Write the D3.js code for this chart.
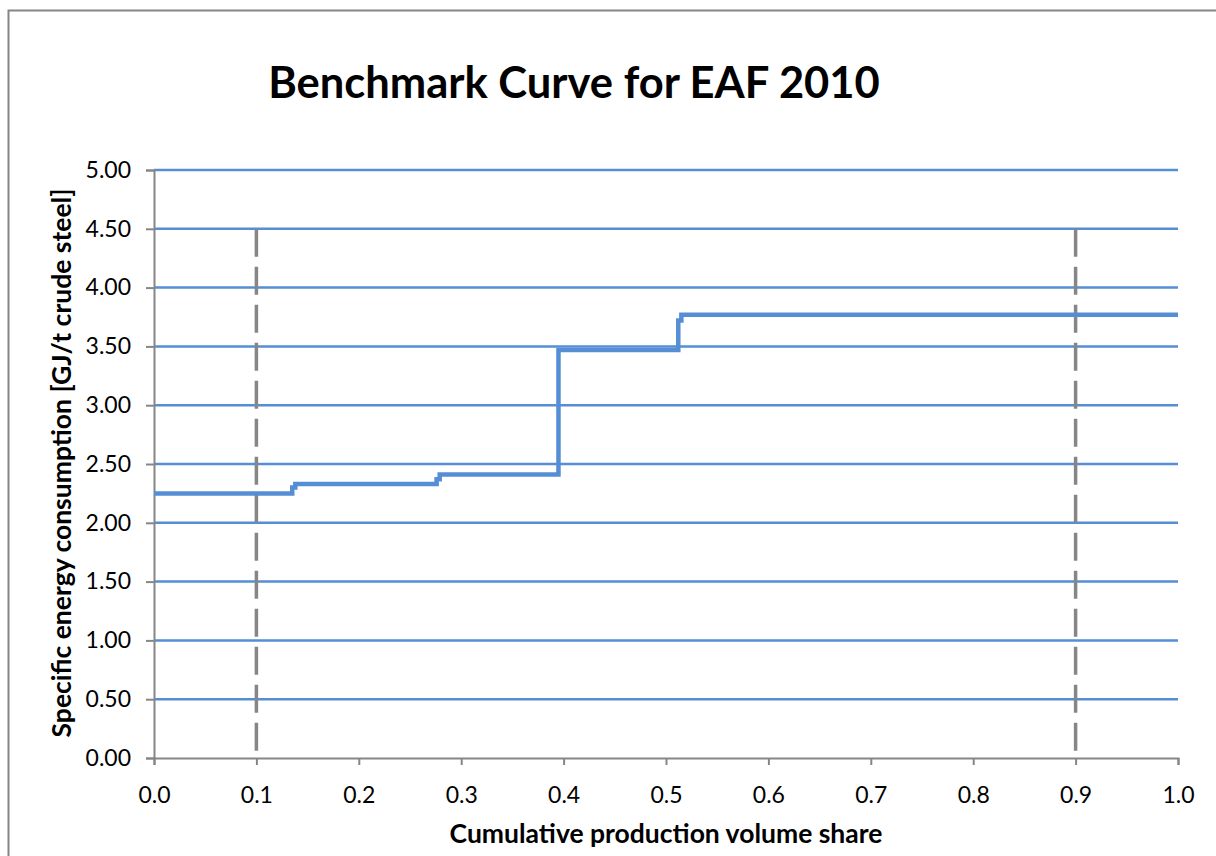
<!DOCTYPE html>
<html><head><meta charset="utf-8">
<script src="https://cdn.jsdelivr.net/npm/d3@7/dist/d3.min.js"></script>
<style>body{margin:0;background:#fff;} text{font-family:Lato,"Open Sans",sans-serif;}</style>
</head><body>
<svg id="c" width="1216" height="856"></svg>
<script>
const title = "Benchmark Curve for EAF 2010";
const xLabel = "Cumulative production volume share";
const yLabel = "Specific energy consumption [GJ/t crude steel]";
const xTicks = [0,0.1,0.2,0.3,0.4,0.5,0.6,0.7,0.8,0.9,1.0];
const yTicks = [0,0.5,1,1.5,2,2.5,3,3.5,4,4.5,5];
// step curve: cumulative share (x) and specific energy (y)
const stepX = [0, 0.135, 0.138, 0.276, 0.279, 0.395, 0.512, 0.515, 1.0];
const stepY = [2.25, 2.30, 2.33, 2.37, 2.41, 3.47, 3.72, 3.77, 3.77];
const benchmarkX = [0.1, 0.9];

const svg = d3.select("#c");
const m = {l:154, r:1178, t:170, b:758};
const x = d3.scaleLinear().domain([0,1]).range([m.l, m.r]);
const y = d3.scaleLinear().domain([0,5]).range([m.b, m.t]);
const blue = "#558ED5", grey = "#868686";

svg.append("rect").attr("x",8.5).attr("y",10.5).attr("width",1230).attr("height",870)
  .attr("fill","none").attr("stroke",grey).attr("stroke-width",2);

// gridlines
svg.append("g").selectAll("line").data(yTicks.filter(d=>d>0)).join("line")
  .attr("x1",m.l).attr("x2",m.r).attr("y1",d=>y(d)).attr("y2",d=>y(d))
  .attr("stroke",blue).attr("stroke-width",2.5);

// y axis
const ya = svg.append("g").attr("transform",`translate(${m.l},0)`)
  .call(d3.axisLeft(y).tickValues(yTicks).tickFormat(d3.format(".2f")).tickSize(8).tickPadding(15));
ya.select(".domain").attr("stroke",grey).attr("stroke-width",2);
ya.selectAll(".tick line").attr("stroke",grey).attr("stroke-width",2);
ya.selectAll("text").attr("font-size",23).attr("fill","#000").style("font-family","Lato,sans-serif");

// x axis
const xa = svg.append("g").attr("transform",`translate(0,${m.b})`)
  .call(d3.axisBottom(x).tickValues(xTicks).tickFormat(d3.format(".1f")).tickSize(7).tickPadding(22));
xa.select(".domain").attr("stroke",grey).attr("stroke-width",2);
xa.selectAll(".tick line").attr("stroke",grey).attr("stroke-width",2);
xa.selectAll("text").attr("font-size",23).attr("fill","#000").style("font-family","Lato,sans-serif");

// benchmark dashed lines
svg.append("g").selectAll("line").data(benchmarkX).join("line")
  .attr("x1",d=>x(d)).attr("x2",d=>x(d)).attr("y1",y(4.5)).attr("y2",y(0))
  .attr("stroke",grey).attr("stroke-width",3.5).attr("stroke-dasharray","28,10");

// step curve
const pts = stepX.map((v,i)=>[v,stepY[i]]);
svg.append("path").datum(pts)
  .attr("d", d3.line().x(d=>x(d[0])).y(d=>y(d[1])).curve(d3.curveStepAfter))
  .attr("fill","none").attr("stroke",blue).attr("stroke-width",4.5);

svg.append("text").attr("x",574).attr("y",98).attr("text-anchor","middle")
  .attr("font-size",43.5).attr("font-weight","bold").text(title);
svg.append("text").attr("x",666).attr("y",843).attr("text-anchor","middle")
  .attr("font-size",26.5).attr("font-weight","bold").text(xLabel);
svg.append("text").attr("transform","translate(71,463) rotate(-90)").attr("text-anchor","middle")
  .attr("font-size",26.5).attr("font-weight","bold").text(yLabel);
</script>
</body></html>
